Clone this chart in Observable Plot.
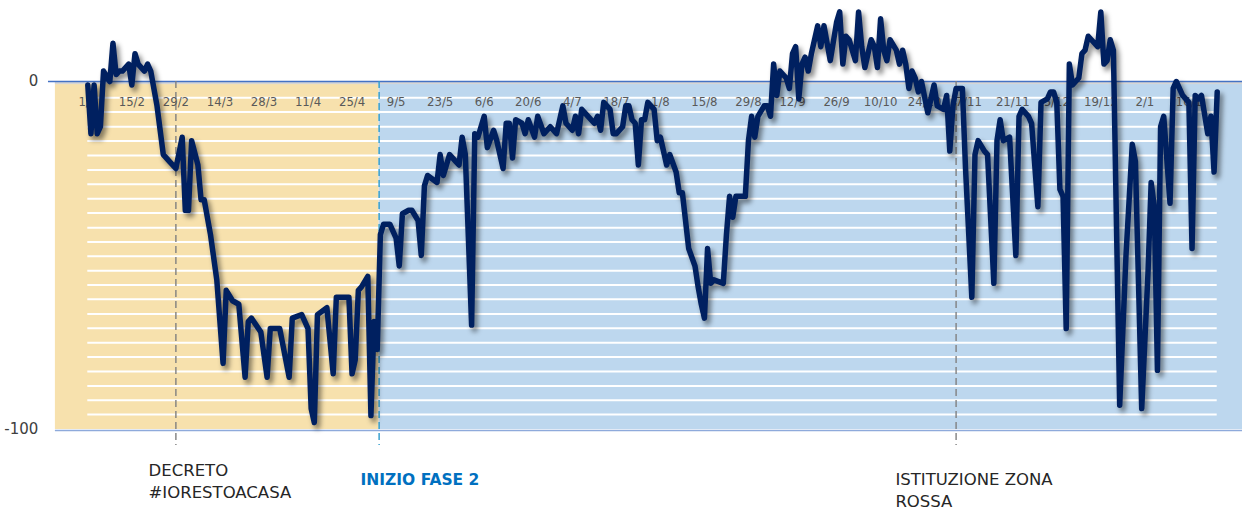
<!DOCTYPE html>
<html>
<head>
<meta charset="utf-8">
<script src="https://cdn.jsdelivr.net/npm/d3@7"></script>
<script src="https://cdn.jsdelivr.net/npm/@observablehq/plot@0.6"></script>
<style>
  html, body { margin: 0; padding: 0; background: #ffffff; }
  #chart svg { display: block; }
</style>
</head>
<body>
<div id="chart"></div>
<script>
// ---------- DATA ----------
const startDate = "2020-02-01";

// day offsets from startDate for each read vertex of the series
const days = [
  0,1,2,3,4,5,7,8,9,10,11,13,14,15,16,18,19,20,22,24,26,28,30,31,32,33,35,36,37,39,
  41,43,44,46,48,50,51,52,55,57,58,61,64,65,68,70,71,72,73,76,78,79,83,84,85,86,87,89,90,91,
  92,93,94,96,98,99,100,102,103,105,106,107,108,111,112,113,115,117,118,119,120,122,123,124,126,127,129,130,132,133,
  134,135,136,138,139,140,142,143,145,147,149,151,152,154,155,156,157,159,161,162,163,164,166,167,168,170,171,172,173,174,
  175,176,177,178,179,180,181,182,184,185,187,188,189,191,193,194,195,196,197,198,199,202,203,204,205,206,209,210,211,212,
  213,215,216,217,218,219,220,222,223,224,225,226,227,228,229,230,232,233,234,236,238,239,240,241,242,244,245,246,247,249,
  250,251,252,253,254,255,257,258,259,260,261,262,263,264,265,267,268,269,270,272,273,274,275,276,278,279,281,282,283,285,
  286,288,289,290,291,293,295,296,297,299,300,302,303,305,306,307,308,309,310,311,312,313,314,315,316,317,318,319,321,322,
  323,324,325,326,328,330,331,332,333,335,337,338,339,340,341,342,344,345,346,348,350,351,352,353,354,356,357,358,359
];
// % variation
const values = [
  -1,-15,-1,-15,-13,3,0,11,2,3,3,5,-1,8,5,3,5,3,-7,-21,-23,-25,-16,-37,-37,-17,-24,-34,-34,-44,
  -57,-81,-60,-63,-64,-85,-69,-68,-72,-85,-71,-71,-85,-68,-67,-71,-94,-98,-67,-65,-84,-62,-62,-84,-80,-60,-59,-56,-96,-69,
  -77,-44,-41,-41,-45,-53,-38,-37,-37,-40,-50,-30,-27,-29,-21,-27,-21,-23,-24,-16,-21,-70,-15,-16,-10,-19,-14,-17,-25,-12,
  -12,-22,-11,-12,-15,-11,-16,-10,-15,-13,-15,-7,-12,-14,-10,-15,-8,-10,-12,-10,-14,-6,-8,-15,-15,-13,-7,-7,-11,-12,
  -24,-11,-11,-6,-7,-8,-17,-16,-24,-21,-26,-32,-32,-48,-53,-59,-64,-68,-48,-58,-57,-58,-44,-33,-39,-33,-33,-17,-10,-16,
  -10,-7,-7,-10,5,-4,3,1,-2,8,10,-5,5,7,3,8,16,10,16,6,17,20,5,13,12,6,20,10,4,12,
  10,4,18,9,6,12,9,5,9,5,-2,3,1,-3,0,-9,-5,-1,-7,-8,-4,-20,-7,-2,-2,-25,-62,-21,-17,-20,
  -21,-58,-17,-11,-17,-16,-50,-10,-8,-10,-12,-36,-6,-5,-3,-3,-6,-31,-33,-71,5,-1,0,1,8,9,13,12,10,20,
  5,6,12,9,-93,-50,-34,-18,-23,-94,-55,-29,-36,-83,-13,-10,-35,-2,0,-4,-6,-48,-4,-5,-4,-15,-10,-26,-3
];

// x-axis tick labels (day/month)
const tickLabels = ["1/2","15/2","29/2","14/3","28/3","11/4","25/4","9/5","23/5","6/6","20/6","4/7","18/7",
  "1/8","15/8","29/8","12/9","26/9","10/10","24/10","7/11","21/11","5/12","19/12","2/1","16/1"];

// y-axis labels
const yLabels = [0, -100];

// events
const eventDates = ["2020-02-29", "2020-05-04", "2020-11-03"];
const eventLabels = ["DECRETO\n#IORESTOACASA", "INIZIO FASE 2", "ISTITUZIONE ZONA\nROSSA"];

// background stripes (decorative white lines)
const stripes = [-4.7,-8.8,-13,-17.1,-21.3,-25.4,-29.5,-33.7,-37.8,-42,-46.1,-50.2,-54.4,-58.5,-62.6,
  -66.8,-70.9,-75.1,-79.2,-83.3,-87.5,-91.6,-95.7];

// ---------- BUILD ----------
const parse = d3.utcParse("%Y-%m-%d");
const t0 = parse(startDate);
const dayAt = (d) => new Date(t0.getTime() + d * 864e5);
const series = days.map((d, i) => ({date: dayAt(d), value: values[i]}));
const ticks = tickLabels.map(s => {
  const [dd, mm] = s.split("/").map(Number);
  return {date: new Date(Date.UTC(mm >= 2 ? 2020 : 2021, mm - 1, dd)), label: s};
});
const events = eventDates.map((d, i) => ({date: parse(d), label: eventLabels[i]}));

const xStart = dayAt(-10.3), xEnd = dayAt(368);
const fase2 = dayAt(92.6);
const dataEnd = dayAt(days[days.length - 1]);

const axisFont = "'Liberation Sans Narrow', 'DejaVu Sans Condensed', 'Arial Narrow', sans-serif";
const labelFont = "'DejaVu Sans', 'Noto Sans', sans-serif";

const chart = Plot.plot({
  width: 1242,
  height: 511,
  margin: 0,
  x: {type: "utc", domain: [t0, parse("2021-01-16")], range: [87.3, 1188.4], axis: null},
  y: {type: "linear", domain: [-100, 0], range: [429, 81], axis: null},
  style: {background: "#ffffff", fontFamily: labelFont},
  marks: [
    // phase backgrounds
    Plot.rect([{x1: xStart, x2: fase2}], {x1: "x1", x2: "x2", y1: 0, y2: -100, fill: "#f7e1ad"}),
    Plot.rect([{x1: fase2, x2: xEnd}], {x1: "x1", x2: "x2", y1: 0, y2: -100, fill: "#bdd7ee"}),
    Plot.rect([{x1: xStart, x2: xEnd}], {x1: "x1", x2: "x2", y1: 0, y2: -0.9, fill: "#d6d6d6"}),
    // stripes
    Plot.ruleY(stripes, {y: d => d, x1: t0, x2: dataEnd, stroke: "#ffffff", strokeWidth: 2}),
    // zero and bottom lines
    Plot.ruleY([0], {x1: dayAt(-12.5), x2: xEnd, stroke: "#4472c4", strokeWidth: 1.3}),
    Plot.ruleY([-100.3], {x1: xStart, x2: xEnd, stroke: "#8eaadb", strokeWidth: 1.5}),
    // event lines
    Plot.ruleX([events[0], events[2]], {x: "date", y1: 0, y2: -104.6,
      stroke: "#808080", strokeWidth: 1.4, strokeDasharray: "7,4"}),
    Plot.ruleX([events[1]], {x: () => fase2, y1: 0, y2: -104.6,
      stroke: "#2e9ccc", strokeWidth: 1.4, strokeDasharray: "7,4"}),
    // date tick labels
    Plot.text(ticks, {x: "date", y: -5.8, text: "label", fontSize: 13, fill: "#595959", fontFamily: axisFont}),
    // shadow + series line
    Plot.line(series, {x: "date", y: "value", stroke: "#000000", strokeOpacity: 0.45, strokeWidth: 6,
      dx: 3, dy: 4, strokeLinejoin: "round", strokeLinecap: "round"}),
    Plot.line(series, {x: "date", y: "value", stroke: "#002060", strokeWidth: 5.5,
      strokeLinejoin: "round", strokeLinecap: "round"}),
    // y labels
    Plot.text(yLabels, {x: dayAt(-15.7), y: d => d, text: d => String(d), textAnchor: "end",
      fontSize: 15, fill: "#404040"}),
    // event annotations
    Plot.text([events[0]], {x: dayAt(19.3), y: -114.6, text: "label", textAnchor: "start",
      fontSize: 16.5, lineHeight: 1.34, fill: "#262626"}),
    Plot.text([events[1]], {x: dayAt(86.7), y: -114.4, text: "label", textAnchor: "start",
      fontSize: 15.5, fontWeight: "bold", fill: "#0070c0", fontFamily: "'DejaVu Sans', sans-serif"}),
    Plot.text([events[2]], {x: dayAt(256.7), y: -117.2, text: "label", textAnchor: "start",
      fontSize: 16.5, lineHeight: 1.34, fill: "#262626"})
  ]
});

// soften the shadow line with a blur filter
const svg = d3.select(chart);
svg.insert("defs", ":first-child").html('<filter id="shadowBlur" x="-5%" y="-5%" width="110%" height="110%"><feGaussianBlur stdDeviation="2.5"/></filter>');
const lines = svg.selectAll('g[aria-label="line"]').nodes();
if (lines.length) d3.select(lines[0]).attr("filter", "url(#shadowBlur)");

document.getElementById("chart").appendChild(chart);
</script>
</body>
</html>
